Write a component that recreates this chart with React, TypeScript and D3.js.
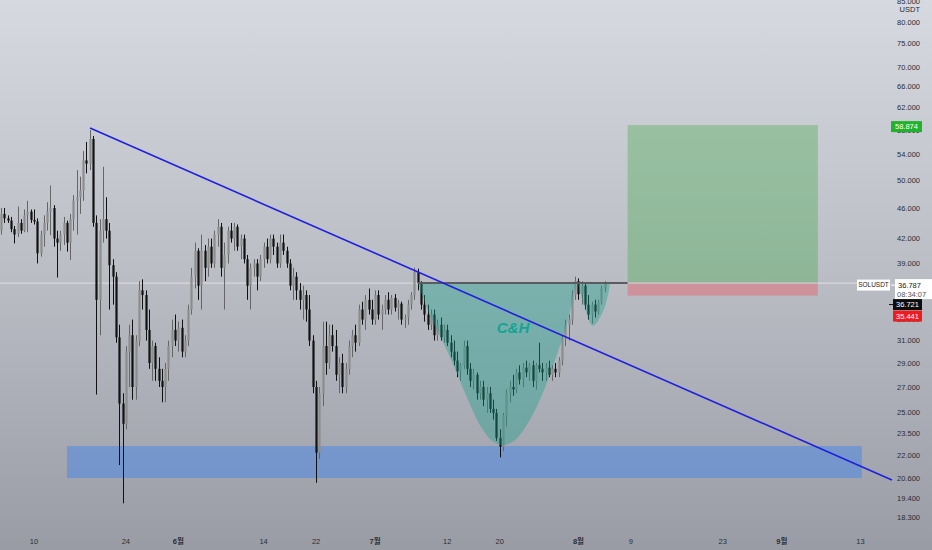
import { useEffect, useRef } from 'react';
import * as d3 from 'd3';

// SOLUSDT 12h candles, first bar 2021-05-05 00:00 UTC
const firstBar = '2021-05-05T00:00:00Z';
const barHours = 12;

// [open, high, low, close]
const candles: [number, number, number, number][] = [
    [43.0, 46.0, 42.5, 45.2], [45.2, 46.0, 44.0, 44.6], [44.6, 45.0, 44.0, 44.3], [44.3, 44.8, 42.8, 43.2],
    [43.2, 43.6, 41.4, 42.5], [42.6, 46.2, 42.2, 44.0], [44.0, 44.5, 42.6, 43.0], [43.0, 45.8, 42.8, 45.0],
    [45.0, 47.0, 42.8, 45.5], [45.5, 45.8, 44.0, 44.4], [44.4, 45.8, 43.8, 44.2], [44.2, 44.6, 39.0, 40.2],
    [40.2, 43.0, 39.8, 42.5], [42.5, 45.0, 41.0, 44.0], [44.0, 46.8, 43.0, 45.5], [45.5, 49.2, 42.4, 46.0],
    [46.0, 46.4, 41.0, 42.0], [42.0, 43.0, 37.4, 41.5], [41.5, 43.0, 40.5, 42.5], [42.5, 44.8, 41.2, 44.0],
    [44.0, 44.3, 40.4, 41.5], [41.5, 45.2, 39.4, 44.5], [44.5, 47.8, 43.0, 47.0], [47.0, 51.5, 42.5, 47.5],
    [47.5, 50.5, 45.2, 48.5], [48.5, 54.5, 47.0, 53.0], [53.0, 56.0, 51.0, 52.5], [52.5, 58.0, 51.5, 56.5],
    [56.5, 57.0, 43.5, 44.0], [44.0, 45.0, 26.4, 35.0], [35.0, 44.5, 31.5, 43.0], [43.0, 52.0, 41.5, 44.5],
    [44.5, 47.5, 42.0, 43.0], [43.0, 44.0, 34.0, 38.8], [38.8, 39.5, 34.5, 37.5], [37.5, 38.0, 30.8, 31.3],
    [31.3, 32.5, 21.4, 25.7], [25.7, 26.5, 19.1, 24.2], [24.2, 30.5, 23.8, 30.0], [30.0, 32.5, 27.0, 31.5],
    [31.5, 33.0, 26.0, 27.0], [27.0, 31.5, 26.0, 31.0], [31.0, 37.0, 30.5, 36.0], [36.0, 37.2, 34.0, 35.5],
    [35.5, 36.0, 31.0, 32.0], [32.0, 34.0, 28.5, 29.0], [29.0, 31.0, 27.5, 30.5], [30.5, 30.8, 27.5, 28.5],
    [28.5, 29.5, 27.0, 27.5], [27.5, 28.5, 25.8, 27.0], [27.0, 29.0, 25.8, 28.5], [28.5, 31.0, 27.5, 30.5],
    [30.5, 33.0, 29.5, 32.0], [32.0, 33.5, 30.5, 31.0], [31.0, 32.8, 30.0, 32.2], [32.2, 33.0, 29.5, 30.0],
    [30.0, 31.5, 29.5, 31.0], [31.0, 34.5, 30.5, 34.0], [34.0, 38.5, 33.5, 37.5], [37.5, 41.5, 36.2, 40.5],
    [40.5, 40.8, 35.0, 36.5], [36.5, 42.5, 34.0, 40.5], [40.5, 41.2, 37.0, 38.5], [38.5, 42.0, 37.5, 41.0],
    [41.0, 42.0, 38.5, 39.0], [39.0, 43.0, 38.5, 42.5], [42.5, 44.5, 41.0, 43.5], [43.5, 44.0, 37.5, 38.5],
    [38.5, 41.5, 34.0, 40.0], [40.0, 43.5, 39.0, 43.0], [43.0, 44.0, 41.5, 42.0], [42.0, 44.0, 40.5, 43.5],
    [43.5, 43.8, 40.5, 41.0], [41.0, 42.5, 39.5, 42.0], [42.0, 42.5, 39.0, 39.5], [39.5, 40.0, 35.0, 36.5],
    [36.5, 39.0, 34.0, 38.5], [38.5, 39.5, 37.5, 39.0], [39.0, 39.5, 36.0, 37.5], [37.5, 40.0, 37.0, 39.5],
    [39.5, 41.5, 38.5, 41.0], [41.0, 42.0, 39.0, 39.5], [39.5, 42.5, 39.0, 42.0], [42.0, 42.5, 40.0, 41.0],
    [41.0, 41.5, 38.5, 39.0], [39.0, 42.5, 38.5, 41.5], [41.5, 42.5, 40.0, 40.5], [40.5, 41.0, 38.5, 39.0],
    [39.0, 39.5, 36.0, 36.5], [36.5, 38.5, 35.0, 37.5], [37.5, 38.0, 35.0, 36.0], [36.0, 36.8, 34.0, 35.0],
    [35.0, 36.5, 33.0, 35.5], [35.5, 36.0, 32.8, 34.0], [34.0, 35.5, 30.5, 31.0], [31.0, 31.5, 26.5, 27.0],
    [27.0, 27.5, 20.3, 22.2], [22.2, 27.0, 21.8, 26.5], [26.5, 32.8, 25.5, 30.5], [30.5, 32.8, 28.0, 29.0],
    [29.0, 32.5, 28.5, 31.5], [31.5, 32.5, 30.0, 30.5], [30.5, 32.0, 27.5, 28.0], [28.0, 29.5, 26.5, 29.0],
    [29.0, 29.8, 26.5, 27.0], [27.0, 29.0, 26.5, 28.5], [28.5, 31.0, 28.0, 30.5], [30.5, 32.0, 29.5, 31.5],
    [31.5, 32.5, 30.0, 30.8], [30.8, 34.5, 30.5, 34.0], [34.0, 34.8, 32.5, 33.0], [33.0, 35.5, 32.0, 35.0],
    [35.0, 36.2, 33.5, 34.0], [34.0, 35.0, 32.5, 33.0], [33.0, 36.0, 32.5, 35.5], [35.5, 36.0, 33.0, 33.5],
    [33.5, 34.5, 32.0, 34.0], [34.0, 35.5, 33.5, 35.0], [35.0, 35.8, 33.5, 34.0], [34.0, 35.5, 33.5, 35.2],
    [35.2, 35.6, 33.8, 34.2], [34.2, 35.0, 33.0, 34.6], [34.6, 34.8, 32.5, 33.0], [33.0, 33.5, 32.2, 33.2],
    [33.2, 35.0, 32.5, 34.5], [34.5, 35.8, 34.0, 35.5], [35.5, 38.5, 35.0, 38.0], [38.0, 38.4, 36.0, 36.8],
    [36.8, 37.0, 34.0, 34.5], [34.5, 35.5, 32.8, 33.5], [33.5, 34.5, 32.0, 32.5], [32.5, 34.0, 32.0, 33.5],
    [33.5, 34.0, 31.0, 31.5], [31.5, 33.0, 31.0, 32.5], [32.5, 33.2, 31.0, 31.3], [31.3, 32.5, 30.8, 32.0],
    [32.0, 32.5, 30.5, 30.8], [30.8, 31.5, 29.5, 30.0], [30.0, 31.0, 28.8, 29.2], [29.2, 30.0, 27.8, 28.3],
    [28.3, 29.0, 27.5, 28.8], [28.8, 31.0, 28.5, 30.5], [30.5, 31.0, 28.0, 28.5], [28.5, 29.0, 27.0, 27.5],
    [27.5, 28.5, 26.8, 28.0], [28.0, 28.2, 26.0, 26.5], [26.5, 27.5, 26.0, 27.0], [27.0, 27.5, 25.5, 26.0],
    [26.0, 27.0, 25.0, 26.5], [26.5, 27.0, 25.0, 25.3], [25.3, 26.0, 24.5, 25.0], [25.0, 25.3, 23.0, 23.2],
    [23.2, 23.8, 21.9, 22.6], [22.6, 25.0, 22.3, 24.8], [24.8, 26.8, 24.0, 26.5], [26.5, 27.5, 25.8, 27.0],
    [27.0, 28.0, 26.3, 26.8], [26.8, 28.5, 26.5, 28.2], [28.2, 28.8, 27.2, 27.6], [27.6, 29.0, 27.0, 28.6],
    [28.6, 29.2, 27.8, 28.2], [28.2, 29.0, 27.5, 28.8], [28.8, 29.2, 27.0, 27.5], [27.5, 29.0, 26.8, 28.8],
    [28.8, 30.8, 28.2, 28.5], [28.5, 29.0, 27.5, 28.2], [28.2, 29.0, 27.5, 28.6], [28.6, 29.2, 27.8, 28.0],
    [28.0, 28.8, 27.5, 28.5], [28.5, 29.0, 27.8, 28.2], [28.2, 29.5, 27.8, 29.2], [29.2, 31.5, 28.8, 31.2],
    [31.2, 33.0, 30.5, 32.5], [32.5, 33.5, 31.0, 33.0], [33.0, 36.0, 32.5, 35.5], [35.5, 37.5, 35.0, 37.0],
    [37.0, 37.3, 35.0, 35.6], [35.6, 37.0, 34.5, 36.5], [36.5, 36.8, 34.0, 34.5], [34.5, 35.5, 33.0, 33.5],
    [33.5, 34.8, 32.6, 34.5], [34.5, 35.0, 33.2, 33.8], [33.8, 35.0, 33.5, 34.8], [34.8, 36.5, 34.5, 36.2],
    [36.2, 37.0, 35.8, 36.787],
];

const priceTicks = [85, 80, 75, 70, 66, 62, 58, 54, 50, 46, 42, 39, 33, 31, 29, 27, 25, 23.5, 22, 20.6, 19.4, 18.3];

const dateTicks = [
    '2021-05-10', '2021-05-24', '2021-06-01', '2021-06-14', '2021-06-22', '2021-07-01', '2021-07-12',
    '2021-07-20', '2021-08-01', '2021-08-09', '2021-08-23', '2021-09-01', '2021-09-13',
];
const dateLabels = ['10', '24', '6월', '14', '22', '7월', '12', '20', '8월', '9', '23', '9월', '13'];

// drawings
const trendDates = ['2021-05-18T13:00:00Z', '2021-09-17T19:00:00Z'];
const trendPrices = [58.36, 20.47];

const zoneDates = ['2021-05-15T00:45:00Z', '2021-09-13T05:00:00Z'];
const zonePrices = [22.65, 20.59];

const cupPoints: [string, number][] = [
    ['2021-07-07T13:00:00Z', 36.787], ['2021-07-09T09:00:00Z', 33.4], ['2021-07-11T23:00:00Z', 30.1],
    ['2021-07-15T04:00:00Z', 26.0], ['2021-07-17T00:00:00Z', 24.1], ['2021-07-18T20:00:00Z', 23.0],
    ['2021-07-20T08:00:00Z', 22.7], ['2021-07-22T04:00:00Z', 23.0], ['2021-07-23T20:00:00Z', 23.9],
    ['2021-07-26T03:00:00Z', 26.0], ['2021-07-28T17:00:00Z', 29.7], ['2021-07-30T10:00:00Z', 32.9],
    ['2021-07-31T15:00:00Z', 36.787],
];
const handlePoints: [string, number][] = [
    ['2021-07-31T22:00:00Z', 36.787], ['2021-08-01T20:00:00Z', 34.5], ['2021-08-03T05:00:00Z', 32.4],
    ['2021-08-04T18:00:00Z', 33.8], ['2021-08-05T16:00:00Z', 36.0], ['2021-08-05T19:00:00Z', 36.787],
];

const necklineDates = ['2021-07-07T12:00:00Z', '2021-08-08T12:00:00Z'];
const positionDates = ['2021-08-08T12:00:00Z', '2021-09-06T12:00:00Z'];
const lastPrice = 36.787;
const targetPrice = 58.874;
const stopPrice = 35.441;
const otherPrice = 36.721;

export default function App() {
    const ref = useRef<SVGSVGElement | null>(null);

    useEffect(() => {
        const width = 932;
        const height = 550;
        const plotRight = 890;
        const plotBottom = 530;
        const font = '"Liberation Sans", "Noto Sans CJK KR", sans-serif';

        const svg = d3.select(ref.current);
        svg.selectAll('*').remove();
        svg.attr('viewBox', `0 0 ${width} ${height}`);

        const x = d3.scaleUtc()
            .domain([new Date('2021-05-04T19:34:00Z'), new Date('2021-09-17T12:00:00Z')])
            .range([0, plotRight]);
        const y = d3.scaleLog().domain([17.64, 85.44]).range([plotBottom, 0]);
        const t0 = Date.parse(firstBar);
        const barX = (i: number) => x(new Date(t0 + i * barHours * 3600e3));
        const dx = (s: string) => x(new Date(s));

        // background
        const defs = svg.append('defs');
        const bg = defs.append('linearGradient').attr('id', 'bg').attr('x1', 0).attr('y1', 0).attr('x2', 0).attr('y2', 1);
        bg.append('stop').attr('offset', '0%').attr('stop-color', '#d6d9df');
        bg.append('stop').attr('offset', '50%').attr('stop-color', '#babdc4');
        bg.append('stop').attr('offset', '100%').attr('stop-color', '#999ca5');
        svg.append('rect').attr('width', width).attr('height', height).attr('fill', 'url(#bg)');

        // support zone
        svg.append('rect')
            .attr('x', dx(zoneDates[0]))
            .attr('y', y(zonePrices[0]))
            .attr('width', dx(zoneDates[1]) - dx(zoneDates[0]))
            .attr('height', y(zonePrices[1]) - y(zonePrices[0]))
            .attr('fill', 'rgba(60,130,240,0.45)');

        // long position box
        const px0 = dx(positionDates[0]);
        const pw = dx(positionDates[1]) - px0;
        svg.append('rect')
            .attr('x', px0).attr('y', y(targetPrice))
            .attr('width', pw).attr('height', y(lastPrice) - y(targetPrice))
            .attr('fill', 'rgba(60,170,70,0.35)');
        svg.append('rect')
            .attr('x', px0).attr('y', y(lastPrice))
            .attr('width', pw).attr('height', y(stopPrice) - y(lastPrice))
            .attr('fill', 'rgba(240,80,90,0.38)');

        // last price line
        svg.append('line')
            .attr('x1', 0).attr('x2', plotRight)
            .attr('y1', y(lastPrice)).attr('y2', y(lastPrice))
            .attr('stroke', 'rgba(255,255,255,0.55)').attr('stroke-width', 1);

        // candles
        const g = svg.append('g');
        candles.forEach(([o, h, l, c], i) => {
            const cx = Math.round(barX(i)) + 0.5;
            const up = c >= o;
            g.append('line')
                .attr('x1', cx).attr('x2', cx)
                .attr('y1', y(h)).attr('y2', y(l))
                .attr('stroke', up ? '#666' : '#111').attr('stroke-width', 1);
            const top = y(Math.max(o, c));
            const bh = Math.max(1, y(Math.min(o, c)) - top);
            g.append('rect')
                .attr('x', cx - 1.1).attr('y', top)
                .attr('width', 2.2).attr('height', bh)
                .attr('fill', up ? '#8d8d8d' : '#121212');
        });

        // cup & handle
        const shape = d3.line<[string, number]>()
            .x((d) => dx(d[0]))
            .y((d) => y(d[1]))
            .curve(d3.curveCatmullRom);
        [cupPoints, handlePoints].forEach((pts) => {
            svg.append('path')
                .attr('d', shape(pts) + 'Z')
                .attr('fill', 'rgba(20,160,140,0.38)');
        });

        // neckline
        svg.append('line')
            .attr('x1', dx(necklineDates[0])).attr('x2', dx(necklineDates[1]))
            .attr('y1', y(lastPrice)).attr('y2', y(lastPrice))
            .attr('stroke', '#5a5c60').attr('stroke-width', 2);

        // trend line
        svg.append('line')
            .attr('x1', dx(trendDates[0])).attr('y1', y(trendPrices[0]))
            .attr('x2', dx(trendDates[1])).attr('y2', y(trendPrices[1]))
            .attr('stroke', '#1f1fe0').attr('stroke-width', 1.6);

        svg.append('text')
            .attr('x', 513).attr('y', 333)
            .attr('text-anchor', 'middle')
            .attr('font-family', font)
            .attr('font-style', 'italic').attr('font-weight', 'bold')
            .attr('font-size', 15)
            .attr('fill', '#12a596')
            .text('C&H');

        // price axis
        const axis = svg.append('g').attr('font-family', font).attr('font-size', 7.5).attr('fill', '#2a2d33');
        priceTicks.forEach((p) => {
            axis.append('text')
                .attr('x', 920).attr('y', y(p)).attr('dy', '0.35em')
                .attr('text-anchor', 'end')
                .text(d3.format('.3f')(p));
        });
        axis.append('text').attr('x', 920).attr('y', 12).attr('text-anchor', 'end').text('USDT');

        // time axis
        const tAxis = svg.append('g').attr('font-family', font).attr('font-size', 7.5).attr('fill', '#2a2d33');
        dateTicks.forEach((d, i) => {
            tAxis.append('text')
                .attr('x', dx(d + 'T00:00:00Z')).attr('y', 544)
                .attr('text-anchor', 'middle')
                .attr('font-weight', dateLabels[i].includes('월') ? 'bold' : 'normal')
                .text(dateLabels[i]);
        });

        // axis price labels
        const tag = (py: number, label: string, fill: string, color: string, x0: number, w: number) => {
            svg.append('rect').attr('x', x0).attr('y', py - 5.5).attr('width', w).attr('height', 11).attr('fill', fill);
            svg.append('text')
                .attr('x', x0 + w / 2).attr('y', py).attr('dy', '0.35em')
                .attr('text-anchor', 'middle')
                .attr('font-family', font).attr('font-size', 7.5)
                .attr('fill', color)
                .text(label);
        };
        tag(y(targetPrice) + 1.5, d3.format('.3f')(targetPrice), '#22b22c', '#ffffff', 891, 31);

        // SOLUSDT label + last price box
        const ly = y(lastPrice) + 2;
        svg.append('rect').attr('x', 857).attr('y', ly - 5.5).attr('width', 33).attr('height', 11).attr('fill', '#ffffff');
        svg.append('text')
            .attr('x', 873.5).attr('y', ly).attr('dy', '0.35em')
            .attr('text-anchor', 'middle').attr('font-family', font).attr('font-size', 6.5).attr('fill', '#222')
            .text('SOLUSDT');
        svg.append('line').attr('x1', 891).attr('x2', 895).attr('y1', ly).attr('y2', ly).attr('stroke', '#fff');
        svg.append('rect').attr('x', 895).attr('y', ly - 6).attr('width', 37).attr('height', 20).attr('fill', '#ffffff');
        svg.append('text')
            .attr('x', 898).attr('y', ly).attr('dy', '0.35em')
            .attr('font-family', font).attr('font-size', 7.5).attr('fill', '#222')
            .text(d3.format('.3f')(lastPrice));
        svg.append('text')
            .attr('x', 897).attr('y', ly + 9).attr('dy', '0.35em')
            .attr('font-family', font).attr('font-size', 7.5).attr('fill', '#555')
            .text('08:34:07');

        tag(ly + 19.5, d3.format('.3f')(otherPrice), '#0d0d0d', '#ffffff', 893, 29);
        svg.append('line').attr('x1', 889).attr('x2', 893).attr('y1', ly + 19.5).attr('y2', ly + 19.5).attr('stroke', '#111');
        tag(ly + 31, d3.format('.3f')(stopPrice), '#ee1c1c', '#ffffff', 893, 29);
    }, []);

    return <svg ref={ref} width={932} height={550} style={{ position: 'absolute', left: 0, top: 0 }} />;
}
